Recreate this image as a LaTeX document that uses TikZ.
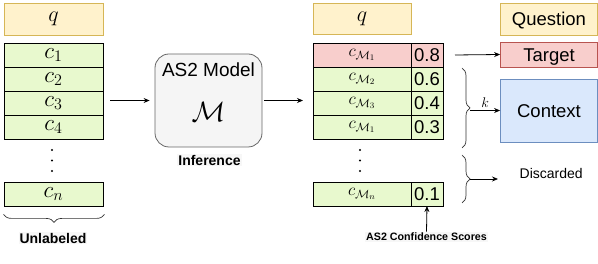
\RequirePackage{fix-cm}
\documentclass[tikz,border=0pt]{standalone}
\usepackage{amsmath}
\usepackage{fontspec}
\newfontfamily\arialfont{Liberation Sans}
\usepackage{tikz}
\usetikzlibrary{positioning, arrows.meta, decorations.pathreplacing}
\usepackage{xcolor}
\definecolor{qfill}{HTML}{FFF2CC}
\definecolor{qdraw}{HTML}{D6B656}
\definecolor{cfill}{HTML}{E8F9CE}
\definecolor{tfill}{HTML}{F8CECC}
\definecolor{tdraw}{HTML}{B85450}
\definecolor{kfill}{HTML}{DAE8FC}
\definecolor{kdraw}{HTML}{6C8EBF}
\definecolor{mfill}{HTML}{F5F5F5}
\definecolor{mdraw}{HTML}{666666}

\begin{document}
\begin{tikzpicture}[x=1pt, y=-1pt, line width=0.8pt,
                  qbox/.style={draw=qdraw, fill=qfill, minimum width=98pt, minimum height=31pt,
                               inner sep=0pt, font=\fontsize{22}{22}\selectfont},
                  cand/.style={draw, fill=cfill, minimum width=99pt, minimum height=24pt,
                               inner sep=0pt, font=\fontsize{23}{23}\selectfont},
                  ranked/.style={draw, fill=cfill, minimum width=98pt, minimum height=24pt,
                               inner sep=0pt, outer sep=0pt, font=\fontsize{17}{17}\selectfont},
                  score/.style={draw, fill=cfill, minimum width=32pt, minimum height=24pt,
                               inner sep=0pt, outer sep=0pt, text height=13.3pt, text depth=0pt,
                               font=\arialfont\fontsize{18.5}{18.5}\selectfont},
                  outbox/.style={draw, minimum width=97pt, inner sep=0pt, text height=13.3pt, text depth=0pt,
                               font=\arialfont\fontsize{18.5}{18.5}\selectfont},
                  lbl/.style={fill=black!3, inner sep=1pt, font=\arialfont\bfseries\fontsize{14}{14}\selectfont},
                  arr/.style={-{Stealth[length=6pt, width=5pt]}},
                  brc/.style={decorate, decoration={brace, amplitude=8pt}, line width=0.7pt, black!80},
            ]
            \useasboundingbox (0,0) rectangle (598,264);

            % Unlabeled candidates
            \node[qbox, minimum width=99pt, minimum height=32pt] (q) at (53.5,19) {$q$};
            \foreach \i/\y in {1/55, 2/79, 3/103, 4/127}{
                  \node[cand] (c\i) at (53.5,\y) {$c_{\i}$};
                  }
            \foreach \y in {150, 160.5, 171}
                  \fill (52,\y) circle (1.1pt);
            \node[cand] (cn) at (53.5,194) {$c_n$};

            \draw[brc] ([xshift=1pt, yshift=-8pt]cn.south east) -- ([yshift=-8pt]cn.south west);
            \node[lbl] (unl) at (53,238) {Unlabeled};

            % AS2 model
            \node[draw=mdraw, fill=mfill, rounded corners=14pt, minimum width=107pt,
                  minimum height=93pt] (model) at (208.5,100.5) {};
            \node[font=\arialfont\fontsize{19}{19}\selectfont] (mname) at (208.5,70) {AS2 Model};
            \node[font=\fontsize{28}{28}\selectfont] (msym) at (208.5,112) {$\mathcal{M}$};
            \node[lbl] (inf) at (209.5,160) {Inference};

            \draw[arr] ([xshift=7pt]c3.east |- model.west) -- ([xshift=-5pt]model.west);

            % Ranked candidates with scores
            \node[qbox] (q2) at (362,18.5) {$q$};
            \foreach \i/\sub/\s/\col in {1/1/0.8/tfill, 2/2/0.6/cfill, 3/3/0.4/cfill, 4/1/0.3/cfill}{
                  \node[ranked, fill=\col] (r\i) at (362,{31+\i*24}) {$c_{\mathcal{M}_{\sub}}$};
                  \node[score, fill=\col, right=0pt of r\i] (s\i) {\s};
                  }
            \foreach \y in {150, 160.5, 171}
                  \fill (360,\y) circle (1.1pt);
            \node[ranked] (rn) at (362,194) {$c_{\mathcal{M}_n}$};
            \node[score, right=0pt of rn] (sn) {0.1};

            \draw[arr] ([xshift=2pt]model.east) -- ([xshift=-10pt]r3.west |- model.east);

            \node[lbl, font=\arialfont\bfseries\fontsize{10.7}{10.7}\selectfont] (conf) at (426.5,237)
            {AS2 Confidence Scores};
            \draw[arr] (conf.north) -- (sn.south);

            % Outputs
            \node[outbox, draw=qdraw, fill=qfill, minimum height=32pt] (ques) at (549,19) {Question};
            \node[outbox, draw=tdraw, fill=tfill, minimum height=25pt] (targ) at (549,54.5) {Target};
            \node[outbox, draw=kdraw, fill=kfill, minimum height=63pt] (ctx) at (549,110.5) {Context};
            \node[font=\arialfont\fontsize{14}{14}\selectfont, anchor=west] (disc) at (516,173) {Discarded};

            \draw[arr] ([xshift=12pt]s1.east) -- (targ.west);

            % Braces for the top-k split
            \coordinate (ktop) at (462,68);
            \coordinate (kbot) at (462,148);
            \coordinate (ktip) at (470,110.5);
            \coordinate (dtop) at (462,155);
            \coordinate (dbot) at (462,203);
            \coordinate (dtip) at (470,179);
            \coordinate (dend) at (498,179);
            \draw[brc] (ktop) -- (kbot);
            \draw[brc] (dtop) -- (dbot);
            \draw[arr] (ktip) -- (ctx.west) node[midway, above=-1pt, font=\fontsize{14}{14}\selectfont] {$k$};
            \draw[arr] (dtip) -- (dend);
      \end{tikzpicture}
\end{document}
